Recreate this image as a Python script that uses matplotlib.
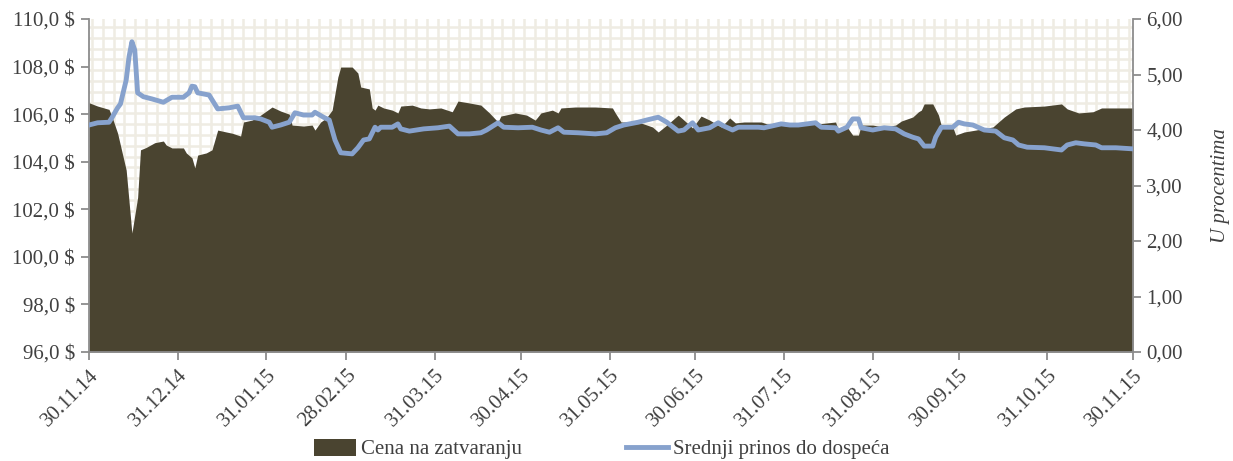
import numpy as np
import pandas as pd
import matplotlib
matplotlib.use("Agg")
import matplotlib.pyplot as plt
from matplotlib.patches import Patch
from matplotlib.lines import Line2D
from matplotlib.ticker import FuncFormatter, FixedLocator

plt.rcParams['font.family'] = ['Liberation Serif', 'DejaVu Serif']

# ---------------- data ----------------
start_date = "2014-11-30"
price_days = [0, 3, 7, 8, 10, 13, 15, 17, 18, 20,
              23, 26, 27, 29, 33, 34, 36, 37, 38, 41,
              43, 45, 48, 50, 53, 54, 57, 60, 64, 67,
              70, 71, 75, 78, 79, 81, 83, 85, 87, 88,
              92, 94, 95, 98, 99, 100, 101, 103, 106, 108,
              109, 113, 116, 119, 123, 127, 129, 133, 137, 140,
              143, 144, 149, 153, 156, 158, 162, 164, 165, 170,
              177, 183, 184, 186, 192, 197, 199, 202, 206, 208,
              211, 214, 217, 221, 224, 226, 229, 235, 237, 241,
              245, 248, 255, 261, 262, 265, 267, 269, 270, 274,
              278, 282, 284, 288, 290, 291, 292, 295, 297, 298,
              302, 303, 306, 310, 316, 320, 324, 327, 334, 340,
              342, 346, 351, 354, 365]
price_vals = [106.48, 106.34, 106.20, 105.90, 105.20, 103.65, 101.00, 102.50, 104.50, 104.60,
              104.80, 104.87, 104.70, 104.58, 104.58, 104.37, 104.16, 103.74, 104.28, 104.37,
              104.50, 105.33, 105.25, 105.20, 105.08, 105.67, 105.75, 105.96, 106.30, 106.13,
              106.00, 105.54, 105.50, 105.54, 105.33, 105.67, 105.84, 106.17, 107.56, 107.98,
              107.98, 107.73, 107.14, 107.06, 106.26, 106.17, 106.38, 106.26, 106.17, 106.05,
              106.34, 106.38, 106.26, 106.22, 106.26, 106.10, 106.55, 106.47, 106.38, 106.05,
              105.67, 105.92, 106.05, 105.96, 105.75, 106.05, 106.17, 106.05, 106.26, 106.30,
              106.30, 106.26, 106.05, 105.67, 105.67, 105.46, 105.25, 105.54, 105.96, 105.75,
              105.42, 105.92, 105.75, 105.46, 105.84, 105.63, 105.67, 105.67, 105.59, 105.54,
              105.50, 105.54, 105.59, 105.67, 105.33, 105.46, 105.12, 105.12, 105.54, 105.54,
              105.46, 105.54, 105.71, 105.88, 106.10, 106.17, 106.43, 106.43, 105.96, 105.50,
              105.46, 105.12, 105.25, 105.33, 105.46, 105.88, 106.22, 106.30, 106.34, 106.43,
              106.22, 106.05, 106.10, 106.26, 106.26]

yield_days = [0, 3, 7, 8, 10, 11, 13, 14, 15, 16,
              17, 19, 22, 26, 29, 33, 35, 36, 37, 38,
              42, 45, 49, 52, 54, 58, 60, 63, 64, 67,
              70, 72, 75, 78, 79, 82, 84, 86, 88, 92,
              94, 96, 98, 100, 101, 102, 106, 108, 109, 112,
              117, 122, 126, 129, 133, 137, 139, 143, 145, 150,
              155, 158, 161, 164, 166, 171, 177, 181, 184, 187,
              192, 195, 199, 202, 206, 208, 211, 213, 217, 220,
              222, 225, 227, 234, 236, 242, 245, 248, 254, 256,
              261, 262, 265, 267, 269, 270, 274, 278, 282, 285,
              288, 290, 292, 295, 296, 298, 302, 304, 306, 309,
              313, 317, 320, 323, 325, 328, 334, 340, 342, 345,
              348, 352, 354, 359, 365]
yield_vals = [4.09, 4.13, 4.14, 4.22, 4.40, 4.47, 4.90, 5.32, 5.59, 5.44,
              4.67, 4.60, 4.56, 4.50, 4.59, 4.59, 4.67, 4.79, 4.78, 4.67,
              4.63, 4.38, 4.40, 4.43, 4.22, 4.22, 4.20, 4.14, 4.05, 4.09,
              4.14, 4.31, 4.27, 4.27, 4.32, 4.23, 4.18, 3.82, 3.59, 3.57,
              3.68, 3.82, 3.84, 4.05, 4.00, 4.05, 4.05, 4.11, 4.02, 3.98,
              4.02, 4.04, 4.07, 3.93, 3.93, 3.95, 4.00, 4.13, 4.05, 4.04,
              4.05, 4.00, 3.96, 4.04, 3.96, 3.95, 3.93, 3.95, 4.04, 4.09,
              4.14, 4.18, 4.23, 4.14, 3.98, 4.00, 4.13, 4.00, 4.04, 4.13,
              4.07, 4.00, 4.05, 4.05, 4.04, 4.11, 4.09, 4.09, 4.13, 4.05,
              4.04, 3.98, 4.05, 4.20, 4.20, 4.04, 4.00, 4.04, 4.02, 3.93,
              3.87, 3.84, 3.71, 3.71, 3.87, 4.05, 4.05, 4.14, 4.11, 4.09,
              4.00, 3.98, 3.86, 3.82, 3.73, 3.69, 3.68, 3.64, 3.73, 3.77,
              3.75, 3.73, 3.68, 3.68, 3.66]

tick_dates = ["2014-11-30", "2014-12-31", "2015-01-31", "2015-02-28", "2015-03-31",
              "2015-04-30", "2015-05-31", "2015-06-30", "2015-07-31", "2015-08-31",
              "2015-09-30", "2015-10-31", "2015-11-30"]
tick_labels = ["30.11.14", "31.12.14", "31.01.15", "28.02.15", "31.03.15", "30.04.15",
               "31.05.15", "30.06.15", "31.07.15", "31.08.15", "30.09.15", "31.10.15",
               "30.11.15"]
left_ticks = [96, 98, 100, 102, 104, 106, 108, 110]
right_ticks = [0, 1, 2, 3, 4, 5, 6]
series_names = ["Cena na zatvaranju", "Srednji prinos do dospeća"]
right_label = "U procentima"

# ---------------- style ----------------
AREA_C = "#4A4430"
LINE_C = "#87A2CD"
TEXT_C = "#404040"
SPINE_C = "#8C8C8C"
GRID_C = "#EFECE3"
FS = 15

t0 = pd.Timestamp(start_date)
px = t0 + pd.to_timedelta(price_days, unit="D")
yx = t0 + pd.to_timedelta(yield_days, unit="D")

fig = plt.figure(figsize=(12.33, 4.61), dpi=100)
pos = [89 / 1233, 1 - 352 / 461, (1133 - 89) / 1233, (352 - 19) / 461]

# decorative background lattice
bg = fig.add_axes(pos, zorder=0)
bg.set_xlim(0, 1044)
bg.set_ylim(0, 333)
bg.axis("off")
step = 10.8
for xv in np.arange(3, 1044, step):
    bg.axvline(xv, color=GRID_C, lw=1.8)
for yv in np.arange(333 - 8, 0, -step):
    bg.axhline(yv, color=GRID_C, lw=1.8)

ax = fig.add_axes(pos, zorder=1)
ax.patch.set_alpha(0)
ax.fill_between(px, 96, price_vals, color=AREA_C, lw=0, zorder=2)
ax.set_ylim(96, 110)
ax.set_xlim(t0, pd.Timestamp(tick_dates[-1]))
ax.yaxis.set_major_locator(FixedLocator(left_ticks))
ax.yaxis.set_major_formatter(FuncFormatter(lambda v, p: f"{v:.1f}".replace(".", ",") + " $"))

ax2 = ax.twinx()
ax2.plot(yx, yield_vals, color=LINE_C, lw=3.5, solid_joinstyle="round", zorder=3)
ax2.set_ylim(0, 6)
ax2.yaxis.set_major_locator(FixedLocator(right_ticks))
ax2.yaxis.set_major_formatter(FuncFormatter(lambda v, p: f"{v:.2f}".replace(".", ",")))
ax2.set_ylabel(right_label, fontstyle="italic", fontsize=FS, color=TEXT_C, labelpad=20)

ax.set_xticks(pd.to_datetime(tick_dates))
ax.set_xticklabels(tick_labels, rotation=45, ha="right", rotation_mode="anchor")

for a in (ax, ax2):
    for s in a.spines.values():
        s.set_color(SPINE_C)
        s.set_linewidth(1.3)
    a.spines["top"].set_visible(False)
    a.tick_params(colors=SPINE_C, labelcolor=TEXT_C, labelsize=FS, length=6, width=1.3)
ax2.spines["left"].set_visible(False)
ax2.spines["bottom"].set_visible(False)
ax.spines["right"].set_visible(False)
ax.tick_params(axis="x", pad=4)
ax.tick_params(axis="y", pad=4)

handles = [Patch(facecolor=AREA_C, edgecolor="none"),
           Line2D([0], [0], color=LINE_C, lw=3.5)]
fig.legend(handles, series_names, loc="center", bbox_to_anchor=(602 / 1233, 1 - 449 / 461),
           ncol=2, frameon=False, fontsize=FS, labelcolor=TEXT_C, handlelength=2.0,
           handleheight=0.9, handletextpad=0.25, columnspacing=5.0)

fig.savefig("out.png", dpi=100)
